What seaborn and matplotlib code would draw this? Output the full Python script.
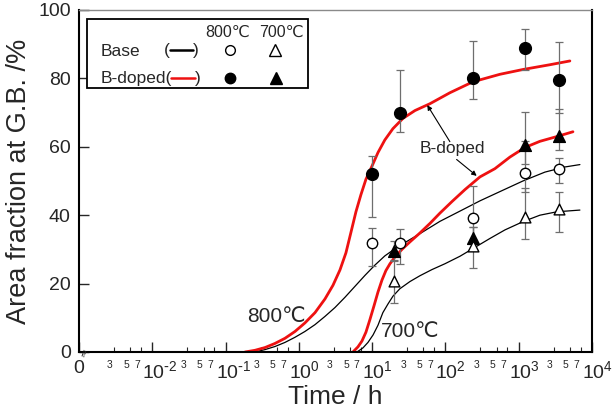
import numpy as np
import pandas as pd
import matplotlib
matplotlib.use("Agg")
import matplotlib.pyplot as plt
import matplotlib.transforms as mtransforms
from matplotlib.lines import Line2D
from matplotlib.patches import Rectangle
import seaborn as sns

# ---------------- data ----------------
t_800 = [10, 24, 240, 1200, 3600]
bdoped_800 = [52.0, 70.0, 80.0, 88.9, 79.4]
bdoped_800_hi = [57.3, 82.6, 90.8, 94.4, 90.5]
bdoped_800_lo = [39.6, 64.3, 73.9, 82.6, 70.0]
base_800 = [31.9, 31.9, 39.3, 52.2, 53.6]
base_800_hi = [36.4, 35.9, 48.4, 61.8, 56.6]
base_800_lo = [25.1, 25.6, 32.7, 46.9, 49.4]

t_700 = [20, 240, 1200, 3600]
bdoped_700 = [29.4, 33.4, 60.5, 63.3]
bdoped_700_hi = [32.5, 36.6, 70.1, 71.1]
bdoped_700_lo = [26.5, 29.8, 55.0, 59.2]
base_700 = [20.9, 30.9, 39.4, 41.7]
base_700_hi = [26.9, 36.5, 47.9, 46.9]
base_700_lo = [14.4, 24.6, 32.9, 35.2]

# fitted curves
curve_t_bd800 = [0.184, 0.252, 0.345, 0.472, 0.646, 0.885, 1.21, 1.66, 2.27, 2.92,
                 3.64, 4.39, 5.14, 6.01, 7.03, 8.23, 9.93, 12.0, 14.9, 19.2,
                 26.3, 38.4, 61.5, 115, 237, 554, 1140, 2667, 4990]
curve_v_bd800 = [0, 0.5, 1.3, 2.5, 4.0, 6.0, 8.5, 11.5, 15.5, 19.5,
                 24.0, 29.0, 35.0, 41.0, 46.0, 50.5, 54.3, 58.3, 62.0, 65.3,
                 68.3, 70.6, 72.6, 75.8, 79.0, 81.2, 82.6, 84.0, 85.1]
curve_t_base800 = [0.252, 0.345, 0.472, 0.646, 0.885, 1.21, 1.66, 2.27, 3.11, 4.26,
                   5.83, 7.98, 10.9, 14.9, 20.5, 28.0, 44.9, 84.1, 158, 296,
                   554, 1140, 2278, 4270, 6840]
curve_v_base800 = [0, 0.7, 1.6, 2.8, 4.3, 6.0, 8.0, 10.4, 13.0, 16.0,
                   19.2, 22.4, 25.4, 28.1, 30.2, 32.0, 34.6, 38.2, 41.2, 44.2,
                   46.9, 50.0, 52.6, 54.1, 54.8]
curve_t_bd700 = [5.47, 6.40, 7.26, 8.23, 9.33, 10.6, 12.0, 13.6, 15.4, 17.5,
                 20.5, 25.5, 32.8, 44.9, 61.5, 84.1, 123, 185, 296, 473,
                 759, 1216, 1945, 3320, 5495]
curve_v_bd700 = [0, 1.5, 3.2, 5.8, 9.5, 13.5, 17.5, 21.0, 23.8, 25.8,
                 27.8, 30.0, 32.2, 34.8, 37.6, 40.6, 44.0, 47.5, 51.2, 53.6,
                 57.0, 59.8, 61.6, 63.0, 64.4]
curve_t_base700 = [6.21, 7.49, 8.77, 10.3, 12.0, 14.0, 16.4, 19.2, 23.9, 32.8,
                   44.9, 65.5, 98.4, 158, 253, 405, 649, 1140, 1945, 3320, 6840]
curve_v_base700 = [0, 1.2, 2.8, 5.0, 7.8, 11.5, 14.0, 16.3, 18.5, 20.6,
                   22.3, 24.1, 25.8, 28.0, 30.6, 33.2, 35.7, 38.1, 40.0, 41.0, 41.5]

x_major = [1e-3, 1e-2, 1e-1, 1e0, 1e1, 1e2, 1e3, 1e4]
x_major_labels = ["0", r"$10^{\text{-}2}$", r"$10^{\text{-}1}$", "$10^{0}$",
                  "$10^{1}$", "$10^{2}$", "$10^{3}$", "$10^{4}$"]
x_minor_mult = [3, 5, 7]
y_ticks = [0, 20, 40, 60, 80, 100]

# ---------------- style ----------------
sns.set_style("white")
plt.rcParams["font.family"] = ["Liberation Sans", "DejaVu Sans"]
plt.rcParams["mathtext.default"] = "regular"

fig = plt.figure(figsize=(6.16, 4.12), dpi=100)
W, H = 616, 412
ax_l, ax_r, ax_t, ax_b = 79, 592, 10, 352
ax = fig.add_axes([ax_l / W, 1 - ax_b / H, (ax_r - ax_l) / W, (ax_b - ax_t) / H])
ax.set_xscale("log")
ax.set_xlim(1e-3, 1e4)
ax.set_ylim(0, 100)

RED = "#ee1111"
ERR = "#6e6e6e"

# curves
curves = [
    (curve_t_base800, curve_v_base800, "k", 0.9),
    (curve_t_base700, curve_v_base700, "k", 0.9),
    (curve_t_bd800, curve_v_bd800, RED, 2.0),
    (curve_t_bd700, curve_v_bd700, RED, 2.0),
]
for tt, vv, c, lw in curves:
    df = pd.DataFrame({"t": tt, "v": vv})
    sns.lineplot(data=df, x="t", y="v", color=c, lw=lw, sort=False,
                 estimator=None, ax=ax, zorder=2)

# error bars and markers
series = [
    (t_800, bdoped_800, bdoped_800_lo, bdoped_800_hi, "o", "black", "black", 72),
    (t_800, base_800, base_800_lo, base_800_hi, "o", "white", "black", 56),
    (t_700, bdoped_700, bdoped_700_lo, bdoped_700_hi, "^", "black", "black", 72),
    (t_700, base_700, base_700_lo, base_700_hi, "^", "white", "black", 60),
]
for tt, vv, lo, hi, m, fc, ec, s in series:
    vv = np.array(vv); lo = np.array(lo); hi = np.array(hi)
    ax.errorbar(tt, vv, yerr=[vv - lo, hi - vv], fmt="none", ecolor=ERR,
                elinewidth=0.9, capsize=3, capthick=0.9, zorder=3)
    sns.scatterplot(x=tt, y=vv, marker=m, s=s, color=fc, edgecolor=ec,
                    linewidth=1.0, ax=ax, zorder=4, legend=False)

# ---------------- axes / ticks ----------------
ax.set_xticks(x_major)
ax.set_xticklabels(x_major_labels, fontsize=14,
                   family=["Liberation Sans Narrow", "Liberation Sans", "DejaVu Sans"])
minor = [m * 10.0 ** d for d in range(-3, 4) for m in x_minor_mult]
minor_labels = [str(m) for d in range(-3, 4) for m in x_minor_mult]
ax.set_xticks(minor, minor=True)
ax.set_xticklabels(minor_labels, minor=True, fontsize=7.5)
ax.set_yticks(y_ticks)
ax.set_yticklabels([str(v) for v in y_ticks], fontsize=14)
ax.tick_params(axis="x", which="major", direction="in", length=7, width=1.0, pad=6, bottom=True)
ax.tick_params(axis="x", which="minor", direction="in", length=3.5, width=0.8, pad=6, bottom=True)
ax.tick_params(axis="y", which="major", direction="in", length=7, width=1.0, pad=6, left=True)
shift_minor = mtransforms.ScaledTranslation(-4 / 100, 0, fig.dpi_scale_trans)
for lbl in ax.get_xticklabels(minor=True):
    lbl.set_transform(lbl.get_transform() + shift_minor)
shift_major = mtransforms.ScaledTranslation(-10 / 100, 0, fig.dpi_scale_trans)
for lbl in ax.get_xticklabels():
    if lbl.get_text() != "0":
        lbl.set_horizontalalignment("left")
        lbl.set_transform(lbl.get_transform() + shift_major)

for sp in ["left", "bottom", "right"]:
    ax.spines[sp].set_color("black")
    ax.spines[sp].set_linewidth(1.5)
ax.spines["top"].set_color("#8a8a8a")
ax.spines["top"].set_linewidth(1.0)

ax.set_xlabel("Time / h", fontsize=19, labelpad=2)
ax.set_ylabel("Area fraction at G.B. /%", fontsize=19.5, labelpad=4)

# axis-break mark at the origin
ax.text(0.0097, 0.0, "\u2248", transform=ax.transAxes, rotation=70,
        ha="center", va="center", fontsize=8, family=["DejaVu Sans"])

# ---------------- annotations ----------------
ax.text(0.49, 10.3, "800\u2103", fontsize=15, ha="center", va="center")
ax.text(32.8, 5.9, "700\u2103", fontsize=15, ha="center", va="center")
ax.text(123, 59.6, "B-doped", fontsize=12.5, ha="center", va="center")
ax.annotate("", xy=(56.5, 72.2), xytext=(115, 61.5),
            arrowprops=dict(arrowstyle="-|>", color="black", lw=0.8,
                            mutation_scale=7, shrinkA=0, shrinkB=0))
ax.annotate("", xy=(267, 51.5), xytext=(142, 56.3),
            arrowprops=dict(arrowstyle="-|>", color="black", lw=0.8,
                            mutation_scale=7, shrinkA=0, shrinkB=0))

# ---------------- legend box (custom table) ----------------
def fx(px):
    return (px - ax_l) / (ax_r - ax_l)

def fy(py):
    return (ax_b - py) / (ax_b - ax_t)

ax.add_patch(Rectangle((fx(86.7), fy(88.3)), fx(307.7) - fx(86.7), fy(19.3) - fy(88.3),
                       transform=ax.transAxes, fill=True, facecolor="white",
                       edgecolor="black", lw=1.3, zorder=5))
tkw = dict(transform=ax.transAxes, zorder=6, va="center")
ax.text(fx(228), fy(32), "800\u2103", ha="center", fontsize=11.5, **tkw)
ax.text(fx(281), fy(32), "700\u2103", ha="center", fontsize=11.5, **tkw)
ax.text(fx(100.5), fy(51), "Base", ha="left", fontsize=12.5, **tkw)
ax.text(fx(166.5), fy(51), "(", ha="center", fontsize=12.5, **tkw)
ax.text(fx(195.5), fy(51), ")", ha="center", fontsize=12.5, **tkw)
ax.text(fx(100.5), fy(78.5), "B-doped(", ha="left", fontsize=12.5, **tkw)
ax.text(fx(198), fy(78.5), ")", ha="center", fontsize=12.5, **tkw)
ax.add_line(Line2D([fx(170), fx(193)], [fy(50), fy(50)], color="black", lw=1.8,
                   transform=ax.transAxes, zorder=6))
ax.add_line(Line2D([fx(170.5), fx(195)], [fy(77.5), fy(77.5)], color=RED, lw=1.8,
                   transform=ax.transAxes, zorder=6))
mkw = dict(transform=ax.transAxes, zorder=6, linestyle="none", mec="black", mew=1.0)
ax.plot([fx(230)], [fy(50)], marker="o", ms=7, mfc="white", **mkw)
ax.plot([fx(275)], [fy(50)], marker="^", ms=8, mfc="white", **mkw)
ax.plot([fx(230)], [fy(78.3)], marker="o", ms=7.5, mfc="black", **mkw)
ax.plot([fx(276)], [fy(78.3)], marker="^", ms=8.5, mfc="black", **mkw)

fig.savefig("out.png", dpi=100)
